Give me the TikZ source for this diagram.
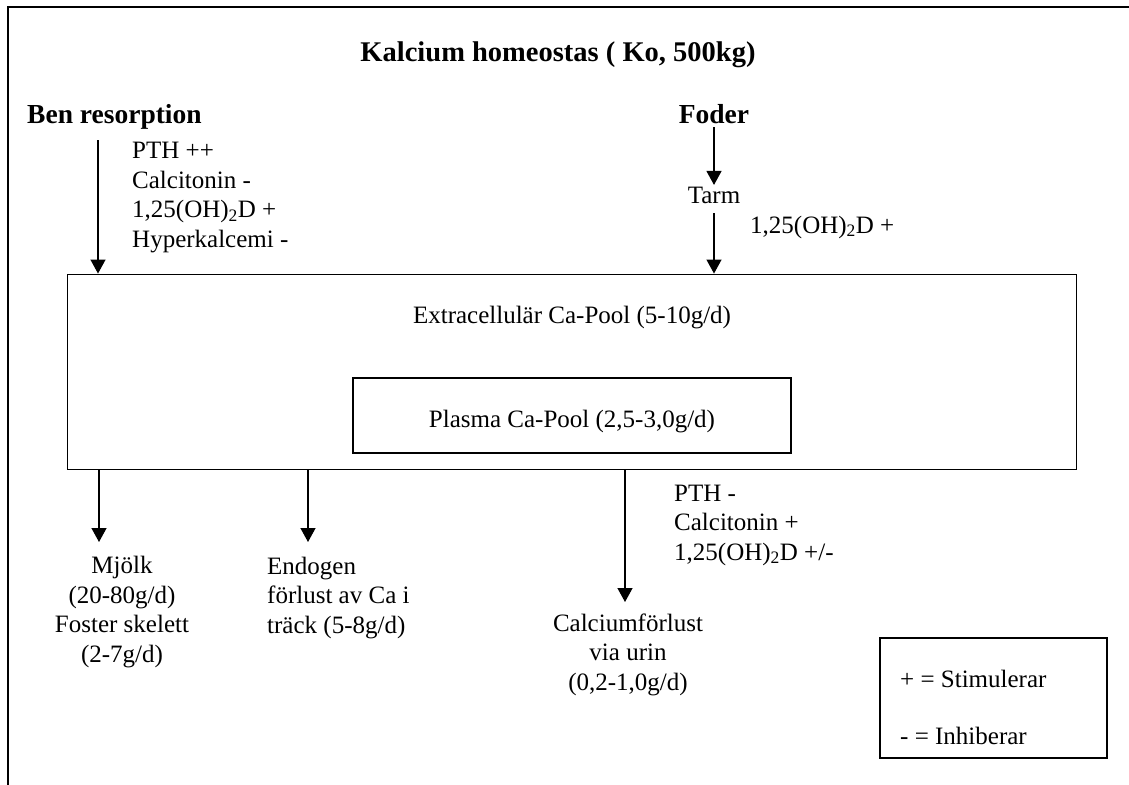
\documentclass[tikz,border=0pt]{standalone}
\usepackage{fontspec}
\setmainfont{Liberation Serif}
\usetikzlibrary{arrows.meta, positioning}

\begin{document}
\begin{tikzpicture}[x=1pt, y=-1pt, >={Triangle[width=15pt,length=14pt]},
  font=\fontsize{25}{29.5}\selectfont,
  pool/.style={draw, line width=1.3pt, inner sep=0pt},
  flow/.style={->, line width=1.3pt},
  txt/.style={inner sep=0pt, anchor=base west, align=left},
  ctxt/.style={inner sep=0pt, anchor=base, align=center},
  head/.style={inner sep=0pt, anchor=base, font=\fontsize{27.5}{30}\selectfont\bfseries}]
  \clip (0,0) rectangle (1129,784);
  \fill[white] (0,0) rectangle (1129,784);
  \draw[line width=2pt] (7.5,800) -- (7.5,7.5) -- (1140,7.5);

  % headings
  \node[head, font=\fontsize{28.5}{30}\selectfont\bfseries] (title) at (558,62) {Kalcium homeostas ( Ko, 500kg)};
  \node[head, anchor=base west] (benres) at (27,123) {Ben resorption};
  \node[head] (foder) at (714,123) {Foder};
  \node[ctxt] (tarm) at (714,203) {Tarm};

  % pools
  \node[pool, minimum width=1009pt, minimum height=195pt] (ecpool) at (572.3,371.7) {};
  \node[ctxt] (ectext) at (572,323) {Extracellulär Ca-Pool (5-10g/d)};
  \node[pool, minimum width=438pt, minimum height=75pt] (plpool) at (572,415.5) {};
  \node[ctxt] (pltext) at (572,427) {Plasma Ca-Pool (2,5-3,0g/d)};

  % inflow (base = last line)
  \coordinate (bentop) at (98,140);
  \draw[flow] (bentop) -- (bentop |- ecpool.north);
  \node[txt] (bonereg) at (132,247) {PTH ++\\Calcitonin -\\1,25(OH)\textsubscript{2}D +\\Hyperkalcemi -};
  \draw[flow] (foder.south) ++(0,4) -- ([yshift=1.5pt]tarm.north);
  \draw[flow] (tarm.south) ++(0,10) -- (tarm.south |- ecpool.north);
  \node[txt] (gutreg) at (750,233) {1,25(OH)\textsubscript{2}D +};

  % outflow
  \coordinate (milkin) at (99,542);
  \coordinate (fecesin) at (308,542);
  \coordinate (urinein) at (625,602);
  \draw[flow] (milkin |- ecpool.south) -- (milkin);
  \draw[flow] (fecesin |- ecpool.south) -- (fecesin);
  \draw[flow] (urinein |- ecpool.south) -- (urinein);
  \node[ctxt] (milk) at (122,662) {Mjölk\\(20-80g/d)\\Foster skelett\\(2-7g/d)};
  \node[txt] (feces) at (267,633) {Endogen\\förlust av Ca i\\träck (5-8g/d)};
  \node[ctxt] (urine) at (628,690) {Calciumförlust\\via urin\\(0,2-1,0g/d)};
  \node[txt] (renalreg) at (674,560) {PTH -\\Calcitonin +\\1,25(OH)\textsubscript{2}D +/-};

  % legend
  \node[pool, minimum width=227pt, minimum height=120pt] (legend) at (993.5,698) {};
  \node[txt] (plus) at (900,687) {+ = Stimulerar};
  \node[txt] (minus) at (900,744) {- = Inhiberar};
\end{tikzpicture}
\end{document}
